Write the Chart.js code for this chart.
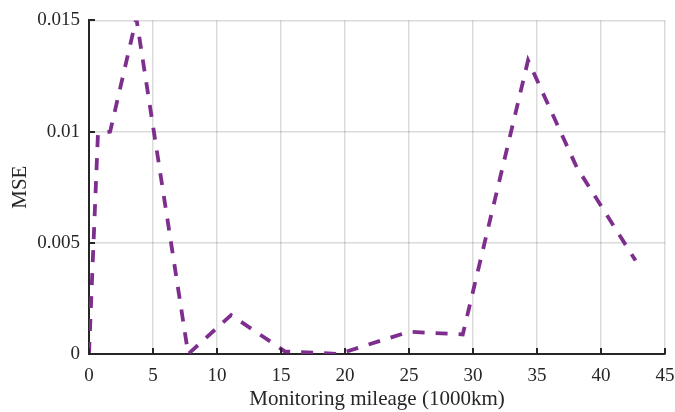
<!DOCTYPE html>
<html>
<head>
<meta charset="utf-8">
<script src="https://cdn.jsdelivr.net/npm/chart.js@4/dist/chart.umd.min.js"></script>
<style>
  html, body { margin: 0; padding: 0; background: #fff; }
  #wrap { width: 675px; height: 412px; }
</style>
</head>
<body>
<div id="wrap"><canvas id="mseChart" width="675" height="412"></canvas></div>
<script>
// Mileage points (1000 km) and MSE at each point
const mileage = [0, 0.7, 1.65, 3.7, 7.75, 11.1, 15.3, 18.0, 19.5, 25.0, 29.2, 34.3, 38.1, 42.7];
const mseValues = [0, 0.0099, 0.0100, 0.0151, 0, 0.00175, 0.00012, 0.00005, 0, 0.0010, 0.00088, 0.0132, 0.0084, 0.0042];

const xTicks = [0, 5, 10, 15, 20, 25, 30, 35, 40, 45];
const yTicks = [0, 0.005, 0.01, 0.015];

const points = mileage.map((m, i) => ({ x: m, y: mseValues[i] }));

// short black tick marks pointing into the plot area
const innerTicks = {
    id: 'innerTicks',
    afterDraw(chart) {
        const ctx = chart.ctx;
        const area = chart.chartArea;
        const xs = chart.scales.x, ys = chart.scales.y;
        ctx.save();
        ctx.strokeStyle = '#262626';
        ctx.lineWidth = 2;
        ctx.beginPath();
        xTicks.forEach(v => {
            const px = Math.round(xs.getPixelForValue(v));
            ctx.moveTo(px, area.bottom);
            ctx.lineTo(px, area.bottom - 6);
        });
        yTicks.forEach(v => {
            const py = Math.round(ys.getPixelForValue(v));
            ctx.moveTo(area.left, py);
            ctx.lineTo(area.left + 6, py);
        });
        ctx.stroke();
        ctx.restore();
    }
};

const serif = "'Liberation Serif', 'Times New Roman', serif";

new Chart(document.getElementById('mseChart').getContext('2d'), {
    type: 'line',
    data: {
        datasets: [{
            data: points,
            borderColor: '#7E2F8E',
            borderWidth: 3.8,
            borderDash: [12, 11],
            pointRadius: 0,
            tension: 0,
            fill: false
        }]
    },
    options: {
        responsive: false,
        animation: false,
        layout: { padding: { top: 20, right: 10, left: 0, bottom: 0 } },
        plugins: { legend: { display: false }, tooltip: { enabled: false } },
        scales: {
            x: {
                type: 'linear',
                min: 0,
                max: 45,
                afterBuildTicks: s => { s.ticks = xTicks.map(v => ({ value: v })); },
                afterFit: s => {
                    s.height = 58;
                    // let the "45" label hang past the axis end
                    s.paddingLeft = 0;
                    s.paddingRight = 0;
                },
                grid: { color: 'rgba(0,0,0,0.14)', lineWidth: 1.5, drawTicks: false },
                border: { color: '#262626', width: 2 },
                ticks: {
                    color: '#262626',
                    font: { family: serif, size: 19 },
                    padding: 11,
                    maxRotation: 0,
                    callback: v => String(v)
                },
                title: {
                    display: true,
                    text: 'Monitoring mileage (1000km)',
                    color: '#262626',
                    font: { family: serif, size: 21 },
                    padding: { top: 3, bottom: 0 }
                }
            },
            y: {
                type: 'linear',
                min: 0,
                max: 0.015,
                afterBuildTicks: s => { s.ticks = yTicks.map(v => ({ value: v })); },
                afterFit: s => { s.width = 89; },
                grid: { color: 'rgba(0,0,0,0.14)', lineWidth: 1.5, drawTicks: false },
                border: { color: '#262626', width: 2 },
                ticks: {
                    color: '#262626',
                    font: { family: serif, size: 19 },
                    padding: 9,
                    callback: v => String(v)
                },
                title: {
                    display: true,
                    text: 'MSE',
                    color: '#262626',
                    font: { family: serif, size: 21 },
                    padding: { top: 8, bottom: 0 }
                }
            }
        }
    },
    plugins: [innerTicks]
});
</script>
</body>
</html>
